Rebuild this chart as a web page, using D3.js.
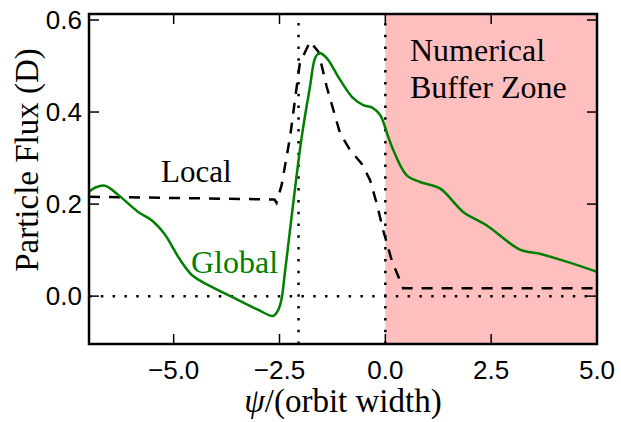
<!DOCTYPE html>
<html>
<head>
<meta charset="utf-8">
<script src="https://cdn.jsdelivr.net/npm/d3@7"></script>
<style>
  html, body { margin: 0; padding: 0; background: #fff; }
  svg { display: block; }
</style>
</head>
<body>
<svg id="chart" width="621" height="422"></svg>
<script>
// Global simulation flux profile
const psiGlobal = [-7.0, -6.85, -6.62, -6.31, -5.84, -5.52, -5.2, -4.89, -4.57, -4.1, -3.55, -3.0,
  -2.65, -2.53, -2.45, -2.37, -1.98, -1.78, -1.66, -1.56, -1.385, -1.07, -0.76, -0.52, -0.32,
  -0.12, 0.07, 0.19, 0.5, 0.82, 1.29, 1.84, 2.39, 3.18, 3.65, 4.28, 5.0];
const fluxGlobal = [0.227, 0.236, 0.240, 0.220, 0.183, 0.165, 0.133, 0.085, 0.046, 0.020, -0.005, -0.030,
  -0.043, -0.030, -0.005, 0.053, 0.343, 0.455, 0.517, 0.528, 0.517, 0.470, 0.430, 0.415, 0.410,
  0.393, 0.346, 0.317, 0.263, 0.248, 0.234, 0.183, 0.154, 0.101, 0.092, 0.075, 0.053];

// Local model flux profile
const psiLocal = [-7.0, -2.62, -2.57, -2.45, -2.25, -2.02, -1.78, -1.58, -1.385, -1.07, -0.83,
  -0.56, -0.36, -0.2, -0.05, 0.15, 0.42, 5.0];
const fluxLocal = [0.216, 0.210, 0.203, 0.241, 0.346, 0.506, 0.553, 0.531, 0.455, 0.354, 0.317,
  0.288, 0.252, 0.200, 0.143, 0.078, 0.017, 0.017];

// Reference lines and shaded buffer region
const vLines = [-2.05, 0.0];
const hLines = [0.0];
const bufferZone = [0.0, 5.0];

const xTicks = [-5.0, -2.5, 0.0, 2.5, 5.0];
const yTicks = [0.0, 0.2, 0.4, 0.6];
const xDomain = [-7, 5];
const yDomain = [-0.104, 0.613];

const margin = { left: 89, right: 24, top: 14, bottom: 78 };
const W = 621, H = 422;
const x0 = margin.left, x1 = W - margin.right, y0 = margin.top, y1 = H - margin.bottom;

const svg = d3.select("#chart");
const x = d3.scaleLinear().domain(xDomain).range([x0, x1]);
const y = d3.scaleLinear().domain(yDomain).range([y1, y0]);

svg.append("defs").append("clipPath").attr("id", "plot")
  .append("rect").attr("x", x0).attr("y", y0).attr("width", x1 - x0).attr("height", y1 - y0);

const plot = svg.append("g").attr("clip-path", "url(#plot)");

// shaded buffer zone
plot.append("rect")
  .attr("x", x(bufferZone[0])).attr("y", y0)
  .attr("width", x(bufferZone[1]) - x(bufferZone[0]))
  .attr("height", y1 - y0)
  .attr("fill", "#ffbfbf");

// dotted guides
const dotted = { stroke: "#000", "stroke-width": 2.5, "stroke-dasharray": "2.5,9.3" };
hLines.forEach(v => {
  const l = plot.append("line").attr("x1", x0).attr("x2", x1).attr("y1", y(v)).attr("y2", y(v));
  Object.entries(dotted).forEach(([k, val]) => l.attr(k, val));
});
vLines.forEach(v => {
  const l = plot.append("line").attr("x1", x(v)).attr("x2", x(v)).attr("y1", y1).attr("y2", y0);
  Object.entries(dotted).forEach(([k, val]) => l.attr(k, val));
});

// local (dashed)
const lineLocal = d3.line().x(d => x(d[0])).y(d => y(d[1])).curve(d3.curveLinear);
plot.append("path")
  .datum(d3.zip(psiLocal, fluxLocal))
  .attr("d", lineLocal)
  .attr("fill", "none")
  .attr("stroke", "#000")
  .attr("stroke-width", 2.5)
  .attr("stroke-dasharray", "11,9");

// global (solid green)
const lineGlobal = d3.line().x(d => x(d[0])).y(d => y(d[1])).curve(d3.curveCatmullRom.alpha(0.5));
plot.append("path")
  .datum(d3.zip(psiGlobal, fluxGlobal))
  .attr("d", lineGlobal)
  .attr("fill", "none")
  .attr("stroke", "#008000")
  .attr("stroke-width", 2.5);

// ticks (inward, mirrored on all sides)
const tickLen = 10;
const axes = svg.append("g").attr("stroke", "#000").attr("stroke-width", 1.5);
xTicks.forEach(t => {
  axes.append("line").attr("x1", x(t)).attr("x2", x(t)).attr("y1", y1).attr("y2", y1 - tickLen);
  axes.append("line").attr("x1", x(t)).attr("x2", x(t)).attr("y1", y0).attr("y2", y0 + tickLen);
});
yTicks.forEach(t => {
  axes.append("line").attr("x1", x0).attr("x2", x0 + tickLen).attr("y1", y(t)).attr("y2", y(t));
  axes.append("line").attr("x1", x1).attr("x2", x1 - tickLen).attr("y1", y(t)).attr("y2", y(t));
});

// frame
svg.append("rect")
  .attr("x", x0).attr("y", y0).attr("width", x1 - x0).attr("height", y1 - y0)
  .attr("fill", "none").attr("stroke", "#000").attr("stroke-width", 2.5);

// tick labels
const fmt = d3.format(".1f");
const tickFont = "'Liberation Sans', Arial, sans-serif";
svg.append("g").selectAll("text").data(xTicks).join("text")
  .attr("x", d => x(d)).attr("y", y1 + 35)
  .attr("text-anchor", "middle")
  .attr("font-family", tickFont).attr("font-size", 26)
  .text(d => fmt(d).replace("-", "\u2212"));
svg.append("g").selectAll("text").data(yTicks).join("text")
  .attr("x", x0 - 7).attr("y", d => y(d) + 9)
  .attr("text-anchor", "end")
  .attr("font-family", tickFont).attr("font-size", 26)
  .text(d => fmt(d));

// axis titles and annotations
const serif = "'Liberation Serif', 'Times New Roman', serif";
const xl = svg.append("text")
  .attr("x", (x0 + x1) / 2).attr("y", 412)
  .attr("text-anchor", "middle")
  .attr("font-family", serif).attr("font-size", 33);
xl.append("tspan").attr("font-style", "italic").text("\u03c8");
xl.append("tspan").text("/(orbit width)");

svg.append("text")
  .attr("transform", "translate(38,160) rotate(-90)")
  .attr("text-anchor", "middle")
  .attr("font-family", serif).attr("font-size", 33)
  .text("Particle Flux (D)");

svg.append("text").attr("x", 161).attr("y", 182)
  .attr("font-family", serif).attr("font-size", 31).attr("fill", "#000")
  .text("Local");
svg.append("text").attr("x", 191).attr("y", 273)
  .attr("font-family", serif).attr("font-size", 32).attr("fill", "#008000")
  .text("Global");
svg.append("text").attr("x", 410).attr("y", 61)
  .attr("font-family", serif).attr("font-size", 32).attr("fill", "#000")
  .text("Numerical");
svg.append("text").attr("x", 410).attr("y", 98)
  .attr("font-family", serif).attr("font-size", 32).attr("fill", "#000")
  .text("Buffer Zone");
</script>
</body>
</html>
